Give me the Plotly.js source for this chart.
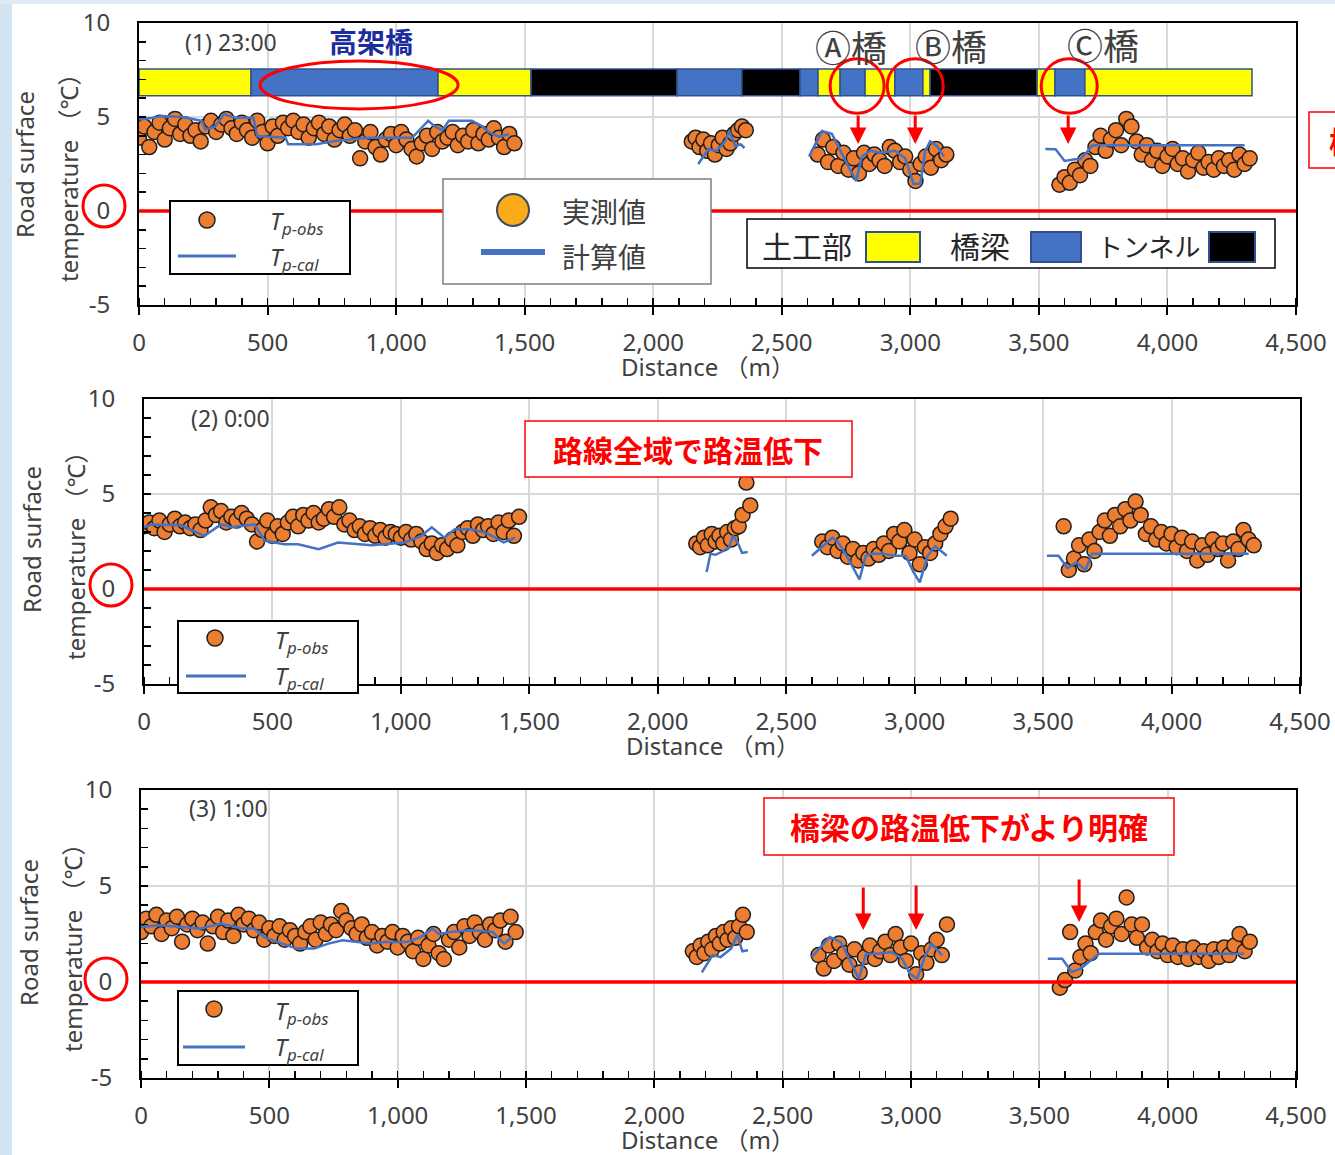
<!DOCTYPE html>
<html>
<head>
<meta charset="utf-8">
<script src="https://cdn.plot.ly/plotly-3.0.1.min.js"></script>
<style>html,body{margin:0;padding:0;background:#fff}</style>
</head>
<body>
<div id="chart" style="width:1335px;height:1155px"></div>
<script>
// Observation positions along the route (m), four measured sections
const DIST_S1 = [0,20,40,60,80,100,120,140,160,180,200,220,240,260,280,300,320,340,360,380,400,420,440,460,480,500,520,540,560,580,600,620,640,660,680,700,720,740,760,780,800,820,840,860,880,900,920,940,960,980,1000,1020,1040,1060,1080,1100,1120,1140,1160,1180,1200,1220,1240,1260,1280,1300,1320,1340,1360,1380,1400,1420,1440,1460];
const DIST_S2 = [2150,2165,2180,2195,2210,2225,2240,2255,2270,2285,2300,2315,2330,2345,2360];
const DIST_S3 = [2640,2660,2680,2700,2720,2740,2760,2780,2800,2820,2840,2860,2880,2900,2920,2940,2960,2980,3000,3020,3040,3060,3080,3100,3120,3140];
const DIST_S4 = [3580,3600,3620,3640,3660,3680,3700,3720,3740,3760,3780,3800,3820,3840,3860,3880,3900,3920,3940,3960,3980,4000,4020,4040,4060,4080,4100,4120,4140,4160,4180,4200,4220,4240,4260,4280,4300,4320];

// (1) 23:00 observed road surface temperature (°C)
const obs23S1 = [3.9,4.5,3.4,4.2,4.7,3.8,4.4,4.9,4.1,4.6,4.0,4.3,3.7,4.5,4.8,4.2,4.6,4.9,4.4,4.1,4.7,4.3,3.9,4.8,4.2,3.6,4.5,4.0,4.7,4.4,4.8,4.2,4.6,3.9,4.4,4.7,4.1,4.5,3.8,4.3,4.6,4.0,4.3,2.8,3.7,4.2,3.4,3.0,3.8,4.1,3.5,4.2,3.8,3.3,2.9,3.6,4.0,3.3,4.2,3.7,3.9,4.2,3.5,4.0,3.7,4.3,3.6,4.1,3.8,4.4,3.9,3.4,4.1,3.6];
const obs23S2 = [3.7,3.9,3.4,3.8,3.2,3.6,3.0,3.5,3.9,3.3,3.6,4.1,4.3,4.5,4.3];
const obs23S3 = [3.0,3.8,2.6,3.4,2.4,3.1,2.2,2.8,2.0,3.1,2.5,3.0,2.7,2.4,3.4,3.2,2.6,2.9,2.2,1.6,2.5,2.9,2.3,3.3,2.7,3.0];
const obs23S4 = [1.4,1.8,1.5,2.2,1.9,2.7,2.4,3.4,4.0,3.2,3.8,4.3,3.5,4.9,4.5,3.7,3.0,3.5,2.7,3.2,2.4,2.9,3.3,2.5,2.8,2.1,2.7,3.1,2.3,2.6,2.2,2.8,2.4,2.7,2.2,3.0,2.5,2.8];
// (1) 23:00 calculated
const cal23S1X = [0,50,90,170,245,258,296,330,375,445,460,570,580,690,760,890,1060,1075,1125,1150,1180,1205,1295,1335,1360,1400,1440];
const cal23S1Y = [4.88,4.95,5.05,5.0,4.79,4.34,4.5,5.14,4.96,4.96,3.99,3.9,3.55,3.55,3.72,3.9,3.9,4.08,4.8,4.5,4.3,4.8,4.8,4.5,4.2,3.95,4.1];
const cal23S2X = [2175,2215,2245,2280,2295,2320,2340,2355];
const cal23S2Y = [2.5,3.3,3.2,3.7,4.25,3.45,3.55,3.35];
const cal23S3X = [2606,2656,2695,2727,2758,2789,2812,2844,2882,2941,2980,3012,3039,3058,3077,3104,3131];
const cal23S3Y = [2.9,4.25,4.1,3.2,2.4,1.6,2.9,3.2,3.1,3.2,2.8,1.45,1.45,3.2,3.7,3.45,2.9];
const cal23S4X = [3525,3565,3600,3640,3660,3685,3705,3720,4300];
const cal23S4Y = [3.3,3.28,2.66,2.75,2.75,3.1,3.46,3.5,3.5];

// (2) 0:00 observed
const obs00S1 = [3.3,3.5,3.2,3.6,3.0,3.4,3.7,3.3,3.5,3.2,3.4,3.1,3.6,4.3,3.9,4.1,3.5,3.8,3.6,4.0,3.7,3.4,2.5,3.1,3.6,2.8,3.3,2.9,3.5,3.8,3.3,3.9,3.6,4.0,3.5,3.7,4.2,3.8,4.3,3.4,3.6,3.1,3.3,2.9,3.2,2.8,3.1,2.7,3.0,2.9,2.7,3.0,2.6,2.9,2.5,2.1,2.4,1.9,2.3,2.1,2.6,2.3,3.0,3.2,2.8,3.4,3.1,3.3,2.9,3.5,3.0,3.6,2.8,3.8];
const obs00S2 = [2.4,2.2,2.7,2.3,2.9,2.5,2.8,2.4,3.0,2.6,3.2,3.3,3.9,5.6,4.4];
const obs00S3 = [2.5,2.2,2.7,2.0,2.4,1.7,2.1,1.5,1.9,1.6,2.1,1.8,2.4,2.0,2.9,2.5,3.1,1.9,2.6,1.3,2.2,1.9,2.4,2.9,3.3,3.7];
const obs00S4 = [3.3,1.0,1.6,2.3,1.3,2.6,2.0,3.0,3.6,2.8,3.9,3.3,4.2,3.6,4.6,3.9,2.9,3.3,2.6,3.0,2.4,2.9,2.2,2.7,2.0,2.5,1.5,2.3,1.8,2.6,2.1,2.4,1.5,2.5,2.1,3.1,2.6,2.3];
// (2) 0:00 calculated
const cal00S1X = [0,30,145,235,300,340,430,470,545,600,680,755,885,1015,1080,1120,1170,1210,1275,1340,1400,1445];
const cal00S1Y = [3.25,3.4,3.35,2.8,3.4,3.25,3.4,2.55,2.35,2.35,2.1,2.45,2.3,2.45,2.8,3.25,2.7,3.15,3.15,2.9,2.45,2.7];
const cal00S2X = [2190,2205,2225,2255,2278,2292,2314,2328,2350];
const cal00S2Y = [0.9,1.85,1.8,2.0,2.2,2.8,2.35,1.9,1.95];
const cal00S3X = [2600,2680,2700,2735,2785,2810,2835,2880,2920,2965,2995,3020,3050,3080,3125];
const cal00S3Y = [1.75,2.7,2.5,1.75,0.5,1.75,1.85,1.85,1.75,1.75,0.9,0.35,1.75,2.25,1.75];
const cal00S4X = [3515,3560,3595,3630,3665,3690,4300];
const cal00S4Y = [1.75,1.75,1.1,1.4,1.0,1.85,1.85];

// (3) 1:00 observed
const obs01S1 = [2.6,3.3,2.9,3.5,2.5,3.2,2.8,3.4,2.1,3.0,3.3,2.7,3.1,2.0,2.9,3.4,2.6,3.2,2.4,3.5,3.0,3.3,2.7,3.1,2.2,2.8,2.4,2.9,2.2,2.7,2.4,2.0,2.6,2.9,2.2,3.1,2.5,3.0,2.7,3.7,3.2,2.8,2.5,3.0,2.3,2.6,1.9,2.4,2.1,2.6,1.8,2.4,2.1,1.6,2.3,1.2,1.9,2.5,1.5,1.2,2.2,2.6,1.8,2.9,2.4,3.1,2.6,2.2,3.0,2.7,3.2,2.1,3.4,2.6];
const obs01S2 = [1.6,1.3,1.9,1.5,2.1,1.7,2.4,2.0,2.6,2.2,2.8,2.3,2.9,3.5,2.6];
const obs01S3 = [1.4,0.7,1.9,1.1,2.0,1.5,0.9,1.7,0.5,1.3,1.9,1.2,1.6,2.1,1.4,2.5,1.8,1.1,2.0,0.4,1.5,1.0,1.7,2.2,1.4,3.0];
const obs01S4 = [-0.3,0.1,2.6,0.6,1.3,2.0,1.5,2.6,3.2,2.2,2.9,3.3,2.5,4.4,3.0,2.3,3.0,1.8,2.2,1.6,2.0,1.4,1.9,1.3,1.7,1.2,1.8,1.3,1.6,1.1,1.7,1.3,1.8,1.4,1.9,2.5,1.6,2.1];
// (3) 1:00 calculated
const cal01S1X = [0,75,230,310,395,440,480,550,605,675,730,785,840,895,950,1035,1090,1135,1160,1205,1285,1370,1415,1445];
const cal01S1Y = [2.86,2.95,2.78,3.04,2.78,2.78,2.34,2.0,1.74,1.74,2.0,2.17,2.08,2.0,2.08,2.08,2.34,2.78,2.5,2.6,2.69,2.6,2.0,2.34];
const cal01S2X = [2185,2227,2258,2300,2323,2343,2365];
const cal01S2Y = [0.5,1.4,1.3,1.75,2.45,1.6,1.65];
const cal01S3X = [2613,2683,2726,2768,2797,2825,2867,2924,2966,2995,3024,3051,3080,3121];
const cal01S3Y = [1.3,2.34,2.08,0.95,0.17,1.47,1.47,1.56,1.21,0.43,0.17,1.21,2.0,1.39];
const cal01S4X = [3533,3589,3626,3661,3689,3732,4298];
const cal01S4Y = [1.21,1.21,0.52,0.7,1.0,1.47,1.47];

// Road structure along the route (m)
const SEG_START = [0,436,1163,1525,2093,2345,2571,2641,2727,2824,2940,3049,3077,3493,3563,3679];
const SEG_END   = [436,1163,1525,2093,2345,2571,2641,2727,2824,2940,3049,3077,3493,3563,3679,4329];
const SEG_TYPE  = ['earth','bridge','earth','tunnel','bridge','tunnel','bridge','earth','bridge','earth','bridge','earth','tunnel','earth','bridge','earth'];

// Axis ticks
const TICKS_X = [0,500,1000,1500,2000,2500,3000,3500,4000,4500];
const TICKS_Y = [-5,0,5,10];
const TICK_TEXT_Y = ['-5','0','5','10'];

const SEG_COLORS = {earth: '#ffff00', bridge: '#4472c4', tunnel: '#000000'};
const ORANGE = '#ed7d31', BLUE = '#4472c4', RED = '#ff0000', GREY = '#404040';
const NUM_FONT = 'Noto Sans, DejaVu Sans, sans-serif';
const JP_FONT = 'Noto Sans CJK JP, Noto Sans, sans-serif';

const W = 1335, H = 1155;
const px = v => v / W;
const py = v => 1 - v / H;

function joinSections(parts) {
  const out = [];
  parts.forEach((p, i) => { if (i) out.push(null); out.push(...p); });
  return out;
}

const obsX = [].concat(DIST_S1, DIST_S2, DIST_S3, DIST_S4);
const panels = [
  {n: '',  obs: [obs23S1, obs23S2, obs23S3, obs23S4],
   cx: [cal23S1X, cal23S2X, cal23S3X, cal23S4X], cy: [cal23S1Y, cal23S2Y, cal23S3Y, cal23S4Y],
   xdom: [139, 1296], ydom: [23, 305]},
  {n: '2', obs: [obs00S1, obs00S2, obs00S3, obs00S4],
   cx: [cal00S1X, cal00S2X, cal00S3X, cal00S4X], cy: [cal00S1Y, cal00S2Y, cal00S3Y, cal00S4Y],
   xdom: [144, 1300], ydom: [399, 684]},
  {n: '3', obs: [obs01S1, obs01S2, obs01S3, obs01S4],
   cx: [cal01S1X, cal01S2X, cal01S3X, cal01S4X], cy: [cal01S1Y, cal01S2Y, cal01S3Y, cal01S4Y],
   xdom: [141, 1296], ydom: [790, 1078]}
];

const traces = [];
// road structure strip on the first panel
traces.push({
  type: 'bar', orientation: 'h', xaxis: 'x', yaxis: 'y',
  base: SEG_START,
  x: SEG_END.map((e, i) => e - SEG_START[i]),
  y: SEG_START.map(() => 6.84),
  width: 1.42,
  marker: {color: SEG_TYPE.map(t => SEG_COLORS[t]), line: {color: '#2f528f', width: 1.5}},
  hoverinfo: 'skip'
});

const layout = {
  width: W, height: H, margin: {l: 0, r: 0, t: 0, b: 0},
  paper_bgcolor: '#ffffff', plot_bgcolor: '#ffffff',
  showlegend: false, hovermode: false, barmode: 'overlay',
  shapes: [], annotations: []
};

panels.forEach(p => {
  const xa = 'x' + p.n, ya = 'y' + p.n;
  traces.push({
    type: 'scatter', mode: 'markers', xaxis: xa, yaxis: ya,
    x: obsX, y: [].concat(...p.obs),
    marker: {size: 15, color: ORANGE, line: {color: '#1e1e1e', width: 1.5}}
  });
  traces.push({
    type: 'scatter', mode: 'lines', xaxis: xa, yaxis: ya,
    x: joinSections(p.cx), y: joinSections(p.cy), connectgaps: false,
    line: {color: BLUE, width: 2.5}
  });
  layout['xaxis' + p.n] = {
    domain: [px(p.xdom[0]), px(p.xdom[1])], anchor: ya, range: [0, 4500],
    tickmode: 'array', tickvals: TICKS_X, tickformat: ',',
    ticks: 'outside', ticklen: 8, tickwidth: 2, tickcolor: '#000',
    minor: {tickmode: 'linear', tick0: 0, dtick: 100, ticks: 'inside', ticklen: 7, tickwidth: 1.5, tickcolor: '#000', showgrid: false},
    ticklabelstandoff: 7,
    tickfont: {family: NUM_FONT, size: 24, color: GREY},
    showgrid: true, gridcolor: '#d9d9d9', gridwidth: 2, zeroline: false,
    showline: true, linecolor: '#000', linewidth: 2, mirror: true
  };
  layout['yaxis' + p.n] = {
    domain: [py(p.ydom[1]), py(p.ydom[0])], anchor: xa, range: [-5, 10],
    tickmode: 'array', tickvals: TICKS_Y, ticktext: TICK_TEXT_Y,
    ticks: 'inside', ticklen: 7, tickwidth: 2, tickcolor: '#000',
    minor: {tickmode: 'linear', tick0: 0, dtick: 1, ticks: 'inside', ticklen: 7, tickwidth: 1.5, tickcolor: '#000', showgrid: false},
    ticklabelstandoff: 22,
    tickfont: {family: NUM_FONT, size: 24, color: GREY},
    showgrid: true, gridcolor: '#d9d9d9', gridwidth: 2, zeroline: false,
    showline: true, linecolor: '#000', linewidth: 2, mirror: true
  };
  // freezing line (legend boxes added later sit on top of it)
  layout.shapes.push({type: 'line', xref: xa + ' domain', x0: 0, x1: 1, yref: ya, y0: 0, y1: 0,
    line: {color: RED, width: 3.5}, layer: 'above'});
});

const S = layout.shapes, A = layout.annotations;

// light backdrop along the page edge
S.push({type: 'rect', xref: 'paper', yref: 'paper', x0: 0, x1: px(12), y0: 0, y1: 1, fillcolor: '#d2e3f1', line: {width: 0}, layer: 'below'});
S.push({type: 'rect', xref: 'paper', yref: 'paper', x0: 0, x1: 1, y0: py(4), y1: 1, fillcolor: '#e0eaf4', line: {width: 0}, layer: 'below'});

function rect(x0, y0, x1, y1, color, width, fill) {
  S.push({type: 'rect', xref: 'paper', yref: 'paper', x0: px(x0), x1: px(x1), y0: py(y1), y1: py(y0),
    line: {color: color, width: width}, fillcolor: fill || '#ffffff', layer: 'above'});
}
function circ(cx, cy, r, fill, color, width) {
  S.push({type: 'circle', xref: 'paper', yref: 'paper', x0: px(cx - r), x1: px(cx + r), y0: py(cy + r), y1: py(cy - r),
    line: {color: color, width: width}, fillcolor: fill, layer: 'above'});
}
function hline(x0, x1, y, color, width) {
  S.push({type: 'line', xref: 'paper', yref: 'paper', x0: px(x0), x1: px(x1), y0: py(y), y1: py(y),
    line: {color: color, width: width}, layer: 'above'});
}
function txt(x, y, text, size, opt) {
  opt = opt || {};
  A.push({xref: 'paper', yref: 'paper', x: px(x), y: py(y), text: text, showarrow: false,
    xanchor: opt.anchor || 'center', yanchor: 'middle', textangle: opt.angle || 0,
    font: {family: opt.family || JP_FONT, size: size, color: opt.color || GREY, weight: opt.weight || 'normal'}});
}
function arrow(xref, yref, x, y, ay) {
  A.push({xref: xref, yref: yref, x: x, y: y, ax: 0, ay: ay, text: '', showarrow: true,
    arrowhead: 2, arrowsize: 1.1, arrowwidth: 3, arrowcolor: RED, standoff: 0});
}
function obsCalLegend(x0, y0, x1, y1, mx, my, lx0, lx1, ly, tx, ty1, ty2) {
  rect(x0, y0, x1, y1, '#000', 2);
  circ(mx, my, 8, ORANGE, '#1e1e1e', 1.5);
  hline(lx0, lx1, ly, BLUE, 3);
  txt(tx, ty1, '<i>T</i><sub><i>p-obs</i></sub>', 24, {anchor: 'left', family: NUM_FONT});
  txt(tx, ty2, '<i>T</i><sub><i>p-cal</i></sub>', 24, {anchor: 'left', family: NUM_FONT});
}
function axisTitles(yx1, yy1, yx2, yy2, dx, dy) {
  txt(yx1, yy1, 'Road surface', 24, {angle: -90, family: NUM_FONT});
  txt(yx2, yy2, 'temperature （℃）', 24, {angle: -90, family: NUM_FONT + ', ' + JP_FONT});
  txt(dx, dy, 'Distance （m）', 24, {family: NUM_FONT + ', ' + JP_FONT});
}

// ---- panel (1) 23:00 ----
txt(183, 42, '(1) 23:00', 23, {anchor: 'left', family: NUM_FONT});
txt(371, 41, '高架橋', 28, {color: '#1b2d9e', weight: 'bold'});
txt(851, 46, 'Ⓐ橋', 36);
txt(951, 45, 'Ⓑ橋', 36);
txt(1103, 44, 'Ⓒ橋', 36);
// highlighted structures on the strip
S.push({type: 'circle', xref: 'x', yref: 'y', x0: 471, x1: 1241, y0: 5.43, y1: 7.98, line: {color: RED, width: 3}, layer: 'above'});
[[2688, 2898], [2910, 3128], [3509, 3727]].forEach(r => {
  S.push({type: 'circle', xref: 'x', yref: 'y', x0: r[0], x1: r[1], y0: 5.2, y1: 8.1, line: {color: RED, width: 3}, layer: 'above'});
});
arrow('x', 'y', 2797, 3.56, -30);
arrow('x', 'y', 3019, 3.56, -30);
arrow('x', 'y', 3614, 3.56, -30);
obsCalLegend(170, 201, 350, 274, 207, 220, 178, 236, 256, 268, 222, 258);
// Japanese legend
rect(443, 179, 711, 284, '#7f7f7f', 1.5);
circ(513, 210, 16, '#fbaa19', '#3c4a66', 2);
hline(481, 545, 252, BLUE, 6);
txt(560, 211, '実測値', 28, {anchor: 'left'});
txt(560, 256, '計算値', 28, {anchor: 'left'});
// structure legend
rect(747, 219, 1275, 268, '#000', 1.5);
txt(807, 245, '土工部', 30, {color: '#262626'});
rect(866, 232, 920, 262, '#2f528f', 2, SEG_COLORS.earth);
txt(980, 245, '橋梁', 30, {color: '#262626'});
rect(1031, 232, 1081, 262, '#2f528f', 2, SEG_COLORS.bridge);
txt(1148, 245, 'トンネル', 26, {color: '#262626'});
rect(1209, 232, 1255, 262, '#2f528f', 2, SEG_COLORS.tunnel);
// callout running off the right edge
rect(1309, 112, 1420, 168, RED, 1.5);
txt(1327, 140, '橋梁の路温低下', 30, {anchor: 'left', color: RED, weight: 'bold'});
circ(104, 206, 21, 'rgba(0,0,0,0)', RED, 3);
axisTitles(25, 165, 69, 172, 708, 367);

// ---- panel (2) 0:00 ----
txt(189, 418, '(2) 0:00', 23, {anchor: 'left', family: NUM_FONT});
rect(525, 421, 852, 477, RED, 1.5);
txt(688, 449, '路線全域で路温低下', 30, {color: RED, weight: 'bold'});
obsCalLegend(178, 621, 358, 693, 215, 638, 186, 246, 676, 273, 641, 677);
circ(111, 585, 21, 'rgba(0,0,0,0)', RED, 3);
axisTitles(32, 540, 75, 550, 713, 745);

// ---- panel (3) 1:00 ----
txt(187, 808, '(3) 1:00', 23, {anchor: 'left', family: NUM_FONT});
rect(764, 798, 1174, 855, RED, 1.5);
txt(969, 826, '橋梁の路温低下がより明確', 30, {color: RED, weight: 'bold'});
arrow('x3', 'y3', 2814, 2.71, -44);
arrow('x3', 'y3', 3020, 2.71, -46);
arrow('x3', 'y3', 3655, 3.12, -44);
obsCalLegend(178, 991, 358, 1065, 214, 1009, 183, 245, 1047, 273, 1012, 1048);
circ(106, 979, 21, 'rgba(0,0,0,0)', RED, 3);
axisTitles(28, 933, 72, 942, 708, 1139);

Plotly.newPlot('chart', traces, layout, {staticPlot: true, displayModeBar: false});
</script>
</body>
</html>
